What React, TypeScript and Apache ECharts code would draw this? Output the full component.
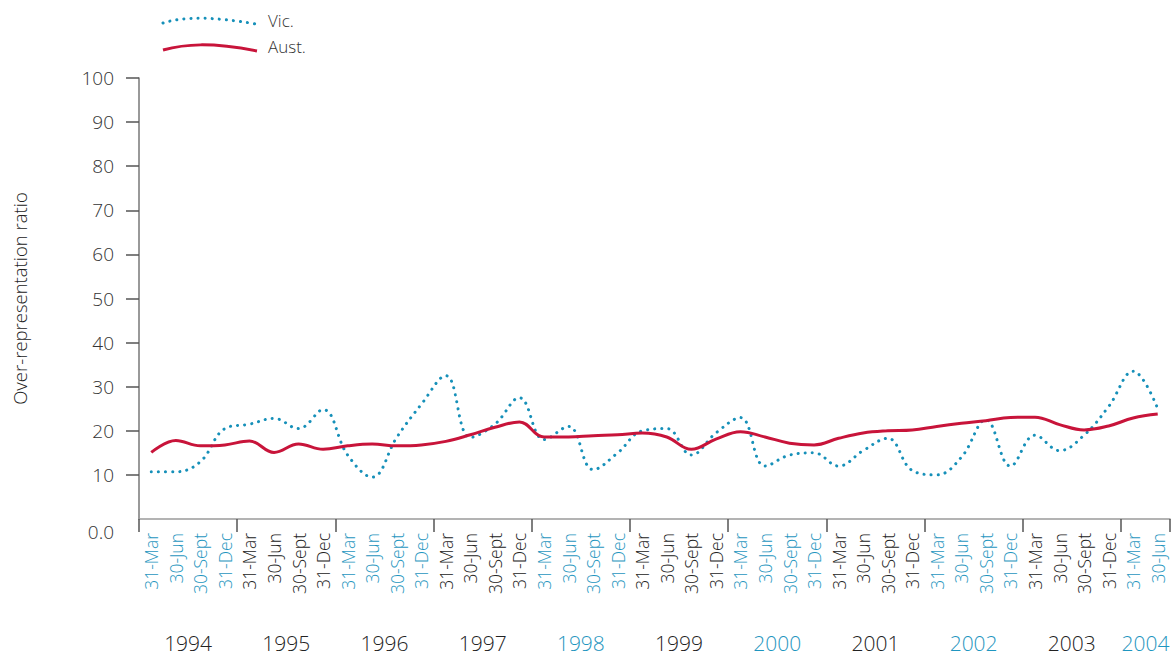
import React, { useEffect, useRef } from 'react';
import * as echarts from 'echarts';

const years = ['1994', '1995', '1996', '1997', '1998', '1999', '2000', '2001', '2002', '2003', '2004'];
const quarterLabels = ['31-Mar', '30-Jun', '30-Sept', '31-Dec'];
const quarterCount = 42;
const categories = years.flatMap((y) => quarterLabels.map((q) => `${y}|${q}`)).slice(0, quarterCount);

const vicValues = [
  10.7, 10.7, 13.0, 20.5, 21.5, 22.8, 20.5, 24.8,
  14.5, 9.5, 18.5, 26.0, 32.5, 18.5, 21.5, 27.5,
  18.0, 21.0, 11.2, 15.0, 20.0, 20.5, 14.5, 19.5,
  23.0, 12.0, 14.5, 15.0, 12.0, 15.5, 18.3, 11.0,
  10.0, 14.0, 22.5, 12.0, 19.0, 15.5, 19.0, 25.5,
  33.5, 25.0,
];
const austValues = [
  15.1, 17.8, 16.6, 16.8, 17.7, 15.1, 17.0, 15.8,
  16.6, 17.0, 16.6, 16.8, 17.6, 19.1, 20.8, 22.0,
  18.6, 18.6, 18.9, 19.1, 19.5, 18.6, 15.8, 18.1,
  19.8, 18.6, 17.2, 16.8, 18.3, 19.5, 20.0, 20.2,
  21.0, 21.7, 22.3, 23.0, 23.1, 21.4, 20.2, 21.1,
  22.9, 23.8,
];
// year label positions, in quarter units along the axis
const yearLabelPositions = [2, 6, 10, 14, 18, 22, 26, 30, 34, 38, 41];
const yearLabelColors = ['d', 'd', 'd', 'd', 't', 'd', 't', 'd', 't', 'd', 't'];

const TEAL = '#1f96c0';
const LINE_TEAL = '#1690b9';
const DARK = '#222222';
const RED = '#c8143a';
const FONT = '"Open Sans", "Noto Sans", sans-serif';
const W = 300;

export default function App() {
  const ref = useRef<HTMLDivElement>(null);
  useEffect(() => {
    if (!ref.current) return;
    const chart = echarts.init(ref.current, undefined, { renderer: 'svg' });
    const option: any = {
      animation: false,
      textStyle: { fontFamily: FONT, fontWeight: W },
      grid: { left: 139, right: 2, top: 78, bottom: 138, containLabel: false, outerBoundsMode: 'none' },
      graphic: [
        {
          type: 'bezierCurve',
          shape: { x1: 163, y1: 23, cpx1: 185, cpy1: 16, cpx2: 215, cpy2: 17, x2: 256, y2: 24 },
          style: { stroke: LINE_TEAL, lineWidth: 3, lineDash: [0.1, 7], lineCap: 'round', fill: null },
        },
        {
          type: 'text', left: 268, top: 12,
          style: { text: 'Vic.', fontSize: 17, fontWeight: W, fill: '#333', fontFamily: FONT },
        },
        {
          type: 'bezierCurve',
          shape: { x1: 163, y1: 50, cpx1: 185, cpy1: 44, cpx2: 210, cpy2: 42, x2: 257, y2: 51 },
          style: { stroke: RED, lineWidth: 3, fill: null },
        },
        {
          type: 'text', left: 268, top: 38,
          style: { text: 'Aust.', fontSize: 17, fontWeight: W, fill: '#333', fontFamily: FONT },
        },
      ],
      xAxis: [
        {
          type: 'category',
          data: categories,
          boundaryGap: true,
          axisLine: { show: true, lineStyle: { color: '#9a9a9a', width: 1.5 } },
          axisTick: {
            show: true,
            interval: (i: number) => i % 4 === 0,
            length: 13,
            lineStyle: { color: '#555', width: 1.5 },
          },
          axisLabel: {
            interval: 0,
            rotate: 90,
            margin: 14,
            formatter: (v: string) => {
              const [y, q] = v.split('|');
              const idx = years.indexOf(y);
              return idx % 2 === 0 ? `{t|${q}}` : `{d|${q}}`;
            },
            rich: {
              t: { color: TEAL, fontSize: 17.5, fontWeight: W, fontFamily: FONT },
              d: { color: DARK, fontSize: 17.5, fontWeight: W, fontFamily: FONT },
            },
          },
          splitLine: { show: false },
        },
        {
          type: 'value',
          min: 0,
          max: quarterCount,
          position: 'bottom',
          axisLine: { show: false },
          axisTick: { show: false },
          splitLine: { show: false },
          axisLabel: {
            customValues: yearLabelPositions,
            margin: 113,
            formatter: (v: number) => {
              const i = yearLabelPositions.indexOf(v);
              return `{${yearLabelColors[i]}|${years[i]}}`;
            },
            rich: {
              t: { color: TEAL, fontSize: 21, fontWeight: W, fontFamily: FONT },
              d: { color: DARK, fontSize: 21, fontWeight: W, fontFamily: FONT },
            },
          },
        },
      ],
      yAxis: {
        type: 'value',
        min: 0,
        max: 100,
        interval: 10,
        name: 'Over-representation ratio',
        nameLocation: 'middle',
        nameGap: 110,
        nameTextStyle: { fontSize: 18.5, color: '#222', fontWeight: W, fontFamily: FONT },
        axisLine: { show: true, lineStyle: { color: '#777', width: 1.5 } },
        axisTick: {
          show: true,
          length: 13,
          customValues: [10, 20, 30, 40, 50, 60, 70, 80, 90, 100],
          lineStyle: { color: '#555', width: 1.5 },
        },
        axisLabel: {
          margin: 25,
          fontSize: 19,
          color: '#333',
          fontWeight: W,
          fontFamily: FONT,
          formatter: (v: number) => (v === 0 ? '{z|0.0}' : String(v)),
          rich: { z: { fontSize: 19, color: '#333', fontWeight: W, fontFamily: FONT, padding: [26, 0, 0, 0] } },
        },
        splitLine: { show: false },
      },
      series: [
        {
          name: 'Vic.',
          type: 'line',
          data: vicValues,
          smooth: 0.4,
          showSymbol: false,
          lineStyle: { color: LINE_TEAL, width: 3, type: [0.1, 7], cap: 'round' },
        },
        {
          name: 'Aust.',
          type: 'line',
          data: austValues,
          smooth: 0.4,
          showSymbol: false,
          lineStyle: { color: RED, width: 3 },
        },
      ],
    };
    chart.setOption(option);
    return () => chart.dispose();
  }, []);
  return (
    <div
      ref={ref}
      style={{ position: 'fixed', left: 0, top: 0, width: 1172, height: 657, background: '#fff' }}
    />
  );
}
